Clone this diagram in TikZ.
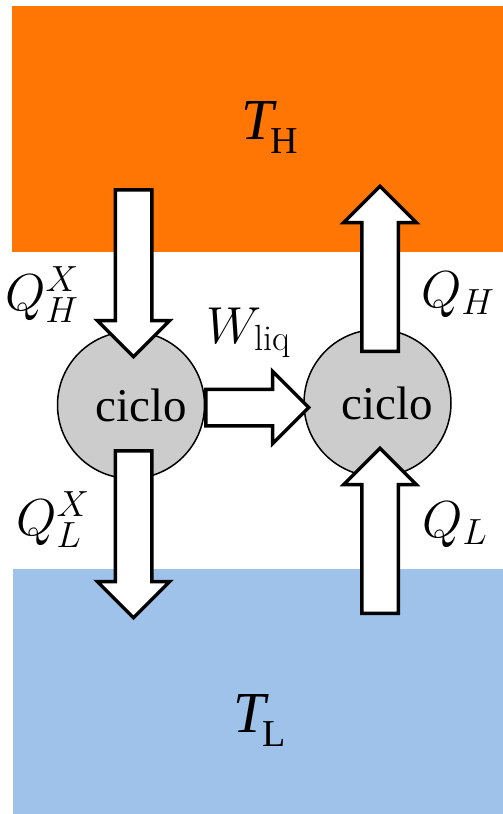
\RequirePackage{fix-cm}
\documentclass[tikz,border=0pt]{standalone}
\usepackage{fontspec}
\newfontfamily\cyclefont{Liberation Serif}
\usepackage{tikz}
\usetikzlibrary{shapes.arrows}

\definecolor{hotres}{RGB}{255,118,5}
\definecolor{coldres}{RGB}{158,194,234}
\definecolor{cycgray}{RGB}{204,204,204}

\newcommand{\tempsub}[2]{{\itshape #1}\kern-3pt\raisebox{-14pt}{\fontsize{38}{40}\selectfont #2}}

\begin{document}
\begin{tikzpicture}[
    x=1pt, y=-1pt,
    reservoir/.style={rectangle, inner sep=0pt, minimum width=491pt, minimum height=246pt},
    cyc/.style={circle, draw, line width=1.5pt, fill=cycgray, minimum size=147pt, inner sep=0pt, font=\cyclefont\fontsize{47}{50}\selectfont},
    fatarrow/.style={single arrow, draw, fill=white, line width=3.5pt, inner sep=0pt, text height=33pt, text depth=0pt, single arrow head extend=18pt, single arrow tip angle=90, anchor=tail},
    lbl/.style={inner sep=0pt, anchor=base west, font=\fontsize{52}{60}\selectfont},
    tlbl/.style={inner sep=0pt, anchor=base west, font=\cyclefont\fontsize{58}{60}\selectfont},
  ]
  \useasboundingbox (0,0) rectangle (503,814);
  % Reservoirs
  \node[reservoir, fill=hotres] (hot) at (257.5,129) {};
  \node[reservoir, fill=coldres] (cold) at (258,691.5) {};
  \node[tlbl] (th) at (241,139) {\tempsub{T}{H}};
  \node[tlbl] (tl) at (233,732) {\tempsub{T}{L}};
  % Cycles
  \node[cyc] (engine) at (131,405) {\hspace*{20pt}ciclo};
  \node[cyc] (pump) at (377.5,403) {\hspace*{20pt}ciclo};
  % Heat and work flows
  \node[fatarrow, rotate=-90, minimum height=167pt] (qhx) at (133.5,188) {};
  \node[fatarrow, rotate=-90, minimum height=167pt] (qlx) at (133.5,449) {};
  \node[fatarrow, rotate=90, minimum height=165pt] (qh) at (380,353) {};
  \node[fatarrow, rotate=90, minimum height=165pt] (ql) at (380,615) {};
  \node[fatarrow, minimum height=103pt] (wliq) at (204,407.5) {};
  % Labels
  \node[lbl] (lqhx) at (5,310) {$Q_H^X$};
  \node[lbl] (lqlx) at (16,535) {$Q_L^X$};
  \node[lbl] (lqh) at (421,307) {$Q_H$};
  \node[lbl] (lql) at (422,537) {$Q_L$};
  \node[lbl] (lw) at (206,343) {$W_{\mathrm{liq}}$};
\end{tikzpicture}
\end{document}
